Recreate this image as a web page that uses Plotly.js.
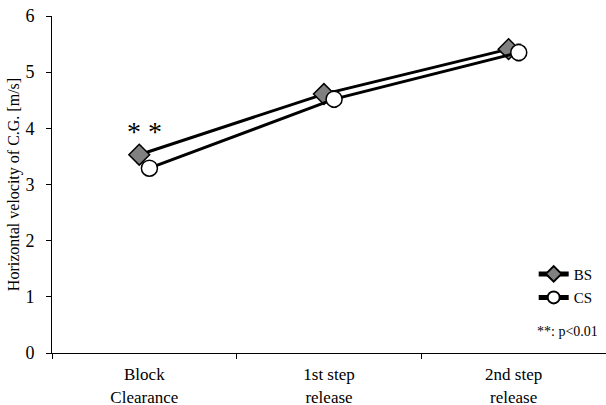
<!DOCTYPE html>
<html><head><meta charset="utf-8">
<script src="https://cdn.plot.ly/plotly-3.0.1.min.js"></script>
<style>html,body{margin:0;padding:0;background:#fff}</style>
</head><body>
<div id="chart" style="width:606px;height:405px"></div>
<script>
const categories = ["Block<br>Clearance", "1st step<br>release", "2nd step<br>release"];
const bsValues = [3.53, 4.61, 5.41];
const bsErrors = [0.15, 0.12, 0.1];
const csValues = [3.29, 4.52, 5.35];
const csErrors = [0.1, 0.15, 0.15];
const yTicks = [0, 1, 2, 3, 4, 5, 6];

const font = "'Liberation Serif', 'Times New Roman', serif";

const traces = [
  {
    name: "BS", x: categories, y: bsValues, type: "scatter", mode: "lines+markers",
    offsetgroup: "bs", legendgroup: "bs",
    line: {color: "#000", width: 3},
    marker: {symbol: "diamond", size: 16, color: "#808080", line: {color: "#000", width: 1.5}},
    error_y: {type: "data", array: bsErrors, visible: true, color: "#000", thickness: 1, width: 2.5}
  },
  {
    name: "CS", x: categories, y: csValues, type: "scatter", mode: "lines+markers",
    offsetgroup: "cs", legendgroup: "cs",
    line: {color: "#000", width: 3},
    marker: {symbol: "circle", size: 16, color: "#fff", line: {color: "#000", width: 1.5}},
    error_y: {type: "data", array: csErrors, visible: true, color: "#000", thickness: 1, width: 2.5}
  }
];

const layout = {
  width: 606, height: 405,
  margin: {l: 52, r: 0, t: 16, b: 52},
  paper_bgcolor: "#fff", plot_bgcolor: "#fff",
  font: {family: font, size: 15, color: "#000"},
  scattermode: "group", scattergap: 0.89,
  showlegend: true,
  legend: {x: 0.985, xanchor: "right", y: 0.283, yanchor: "top", font: {family: font, size: 15, color: "#000"},
           bgcolor: "rgba(0,0,0,0)", itemwidth: 30, itemsizing: "constant", tracegroupgap: 1},
  xaxis: {
    type: "category", showline: true, linecolor: "#000", linewidth: 1,
    ticks: "outside", ticklen: 5, tickcolor: "#000", tickson: "boundaries",
    showgrid: false, zeroline: false, ticklabelstandoff: 6,
    tickfont: {family: font, size: 17, color: "#000"}
  },
  yaxis: {
    range: [0, 6], tickvals: yTicks, showline: true, linecolor: "#000", linewidth: 1,
    ticks: "outside", ticklen: 5, tickcolor: "#000", showgrid: false, zeroline: false,
    ticklabelstandoff: 8,
    tickfont: {family: font, size: 18, color: "#000"},
    title: {text: "Horizontal velocity of C.G. [m/s]", font: {family: font, size: 16, color: "#000"}, standoff: 1}
  },
  annotations: [
    {x: categories[0], y: bsValues[0] + 0.42, xref: "x", yref: "y", text: "* *", showarrow: false,
     font: {family: font, size: 28, color: "#000"}},
    {x: 0.99, y: 0.035, xref: "paper", yref: "paper", xanchor: "right", yanchor: "bottom",
     text: "**: p<0.01", showarrow: false,
     font: {family: font, size: 14, color: "#000"}}
  ]
};

Plotly.newPlot("chart", traces, layout, {displayModeBar: false, staticPlot: true});
</script>
</body></html>
